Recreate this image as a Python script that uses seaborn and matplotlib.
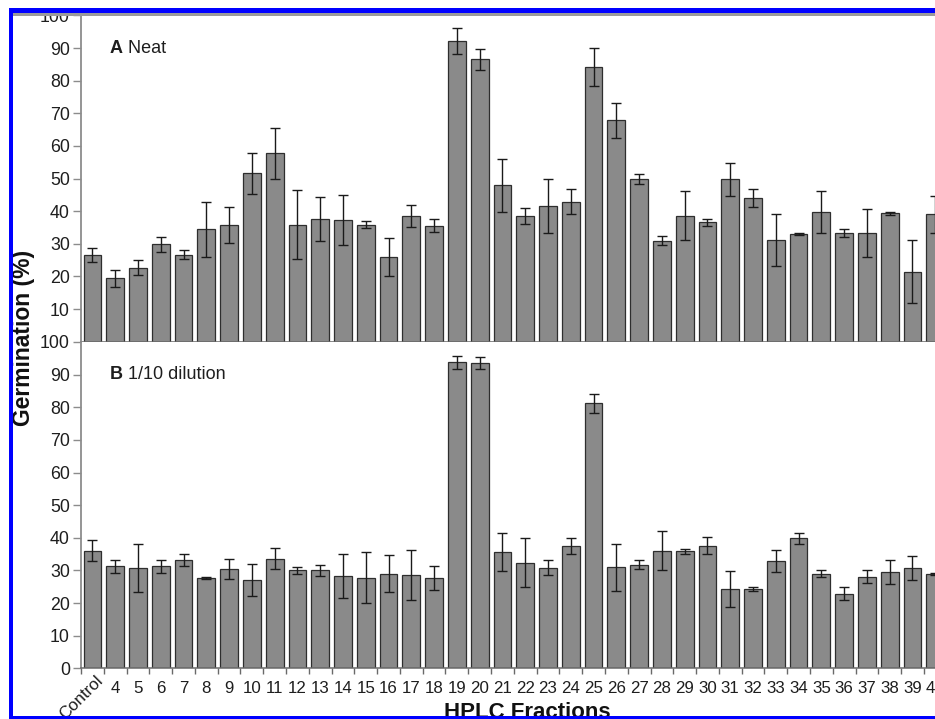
import numpy as np
import pandas as pd
import matplotlib
matplotlib.use("Agg")
import matplotlib.pyplot as plt
import matplotlib.transforms as mtransforms
import seaborn as sns
from matplotlib.patches import Rectangle

# HPLC fractions tested in the germination bioassay
fractions = ["Control"] + [str(i) for i in range(4, 41)]

# Panel A: neat fractions, mean germination (%) and error
neat_mean = [26.5, 19.4, 22.7, 29.8, 26.6, 34.5, 35.8, 51.6, 57.7, 35.8,
             37.6, 37.3, 35.9, 25.9, 38.6, 35.5, 92.1, 86.6, 47.9, 38.6,
             41.6, 42.9, 84.2, 67.9, 49.8, 30.9, 38.6, 36.6, 49.8, 44.0,
             31.2, 33.0, 39.7, 33.3, 33.3, 39.3, 21.5, 39.0]
neat_err = [2.2, 2.5, 2.4, 2.2, 1.4, 8.4, 5.4, 6.3, 7.8, 10.6,
            6.7, 7.7, 1.0, 5.8, 3.3, 2.0, 3.9, 3.2, 8.0, 2.5,
            8.4, 3.8, 5.9, 5.4, 1.6, 1.4, 7.5, 1.0, 5.0, 2.8,
            8.0, 0.4, 6.4, 1.2, 7.3, 0.6, 9.6, 5.8]

# Panel B: 1/10 dilution, mean germination (%) and error
dil_mean = [36.1, 31.2, 30.7, 31.2, 33.3, 27.7, 30.5, 27.1, 33.6, 30.0,
            30.0, 28.2, 27.7, 29.0, 28.6, 27.8, 93.8, 93.5, 35.7, 32.4,
            30.8, 37.5, 81.2, 30.9, 31.8, 36.1, 35.8, 37.5, 24.4, 24.4,
            32.9, 39.8, 29.0, 22.9, 28.1, 29.5, 30.8, 28.9]
dil_err = [3.2, 1.9, 7.3, 1.9, 1.8, 0.2, 3.1, 5.0, 3.2, 1.1,
           1.7, 6.7, 7.8, 5.6, 7.7, 3.7, 2.0, 1.9, 5.9, 7.5,
           2.3, 2.4, 3.0, 7.3, 1.4, 5.9, 0.7, 2.6, 5.5, 0.6,
           3.5, 1.8, 1.0, 1.9, 2.1, 3.6, 3.7, 0.2]

sns.set_style("ticks")
plt.rcParams["font.family"] = ["Liberation Sans", "DejaVu Sans"]

W, H = 935, 719
fig = plt.figure(figsize=(W / 100, H / 100), dpi=100)

BAR = "#8a8a8a"
EDGE = "#2e2e2e"
SPINE = "#8c8c8c"
TXT = "#1e1e1e"

n = len(fractions)
left = 81 / W
width = (n * 22.78) / W
h = 326.3 / H
axA = fig.add_axes([left, (H - 341.7) / H, width, h])
axB = fig.add_axes([left, (H - 668.3) / H, width, h])


def draw_panel(ax, means, errs, show_zero):
    df = pd.DataFrame({"fraction": fractions, "germination": means})
    sns.barplot(data=df, x="fraction", y="germination", order=fractions,
                color=BAR, edgecolor=EDGE, linewidth=0.9, width=0.78,
                saturation=1, errorbar=None, ax=ax)
    ax.errorbar(np.arange(n), means, yerr=errs, fmt="none", ecolor="#1a1a1a",
                elinewidth=1.0, capsize=3.3, capthick=1.0, zorder=5)
    ax.set_xlim(-0.5, n - 0.5)
    ax.set_ylim(0, 100)
    ax.set_yticks(np.arange(0 if show_zero else 10, 101, 10))
    ax.set_xlabel("")
    ax.set_ylabel("")
    for s in ("top", "right"):
        ax.spines[s].set_visible(False)
    ax.spines["left"].set_color(SPINE)
    ax.spines["left"].set_linewidth(1.3)
    ax.spines["bottom"].set_color("#6a6a6a")
    ax.spines["bottom"].set_linewidth(1.1)
    ax.tick_params(axis="y", length=6, width=1.0, color=SPINE, pad=2,
                   labelsize=12.8, labelcolor=TXT)
    # category separators as small ticks, labels centred under bars
    ax.set_xticks(np.arange(n) - 0.5, minor=True)
    ax.tick_params(axis="x", which="minor", length=4, width=1.0, color="#6a6a6a")
    ax.tick_params(axis="x", which="major", length=0, pad=9,
                   labelsize=12.2, labelcolor=TXT)


draw_panel(axA, neat_mean, neat_err, show_zero=False)
draw_panel(axB, dil_mean, dil_err, show_zero=True)

axA.set_xticklabels([])
axB.set_xticks(np.arange(n))
axB.set_xticklabels(fractions)
ctrl = axB.get_xticklabels()[0]
ctrl.set_rotation(45)
ctrl.set_ha("right")
ctrl.set_rotation_mode("anchor")
ctrl.set_va("center")
ctrl.set_transform(ctrl.get_transform() +
                   mtransforms.ScaledTranslation(8 / 100, 3 / 100,
                                                 fig.dpi_scale_trans))

# panel captions
for ax, tag, rest in ((axA, "A", " Neat"), (axB, "B", " 1/10 dilution")):
    t = ax.text(0.77, 90, tag, fontsize=13, fontweight="bold", color=TXT,
                ha="left", va="center")
    ax.annotate(rest, xy=(1, 0), xycoords=t, fontsize=13, color=TXT,
                ha="left", va="bottom")

fig.text(24 / W, 1 - 338 / H, "Germination (%)", rotation=90, ha="center",
         va="center", fontsize=16.5, fontweight="bold", color="#111111")
fig.text(527 / W, (H - 718) / H, "HPLC Fractions", ha="center",
         va="baseline", fontsize=16, fontweight="bold", color="#111111")


def px_rect(x0, y0, x1, y1, color):
    fig.add_artist(Rectangle((x0 / W, 1 - y1 / H), (x1 - x0) / W, (y1 - y0) / H,
                             transform=fig.transFigure, facecolor=color,
                             edgecolor="none", zorder=20))


# frame around the figure
px_rect(13.3, 12.7, W, 15.7, "#9a9a9a")
px_rect(9, 8.3, W, 12.7, "#0000ff")
px_rect(9, 8.3, 13.3, H, "#0000ff")
px_rect(9, 716, W, H, "#0000ff")

fig.savefig("out.png", dpi=100)
